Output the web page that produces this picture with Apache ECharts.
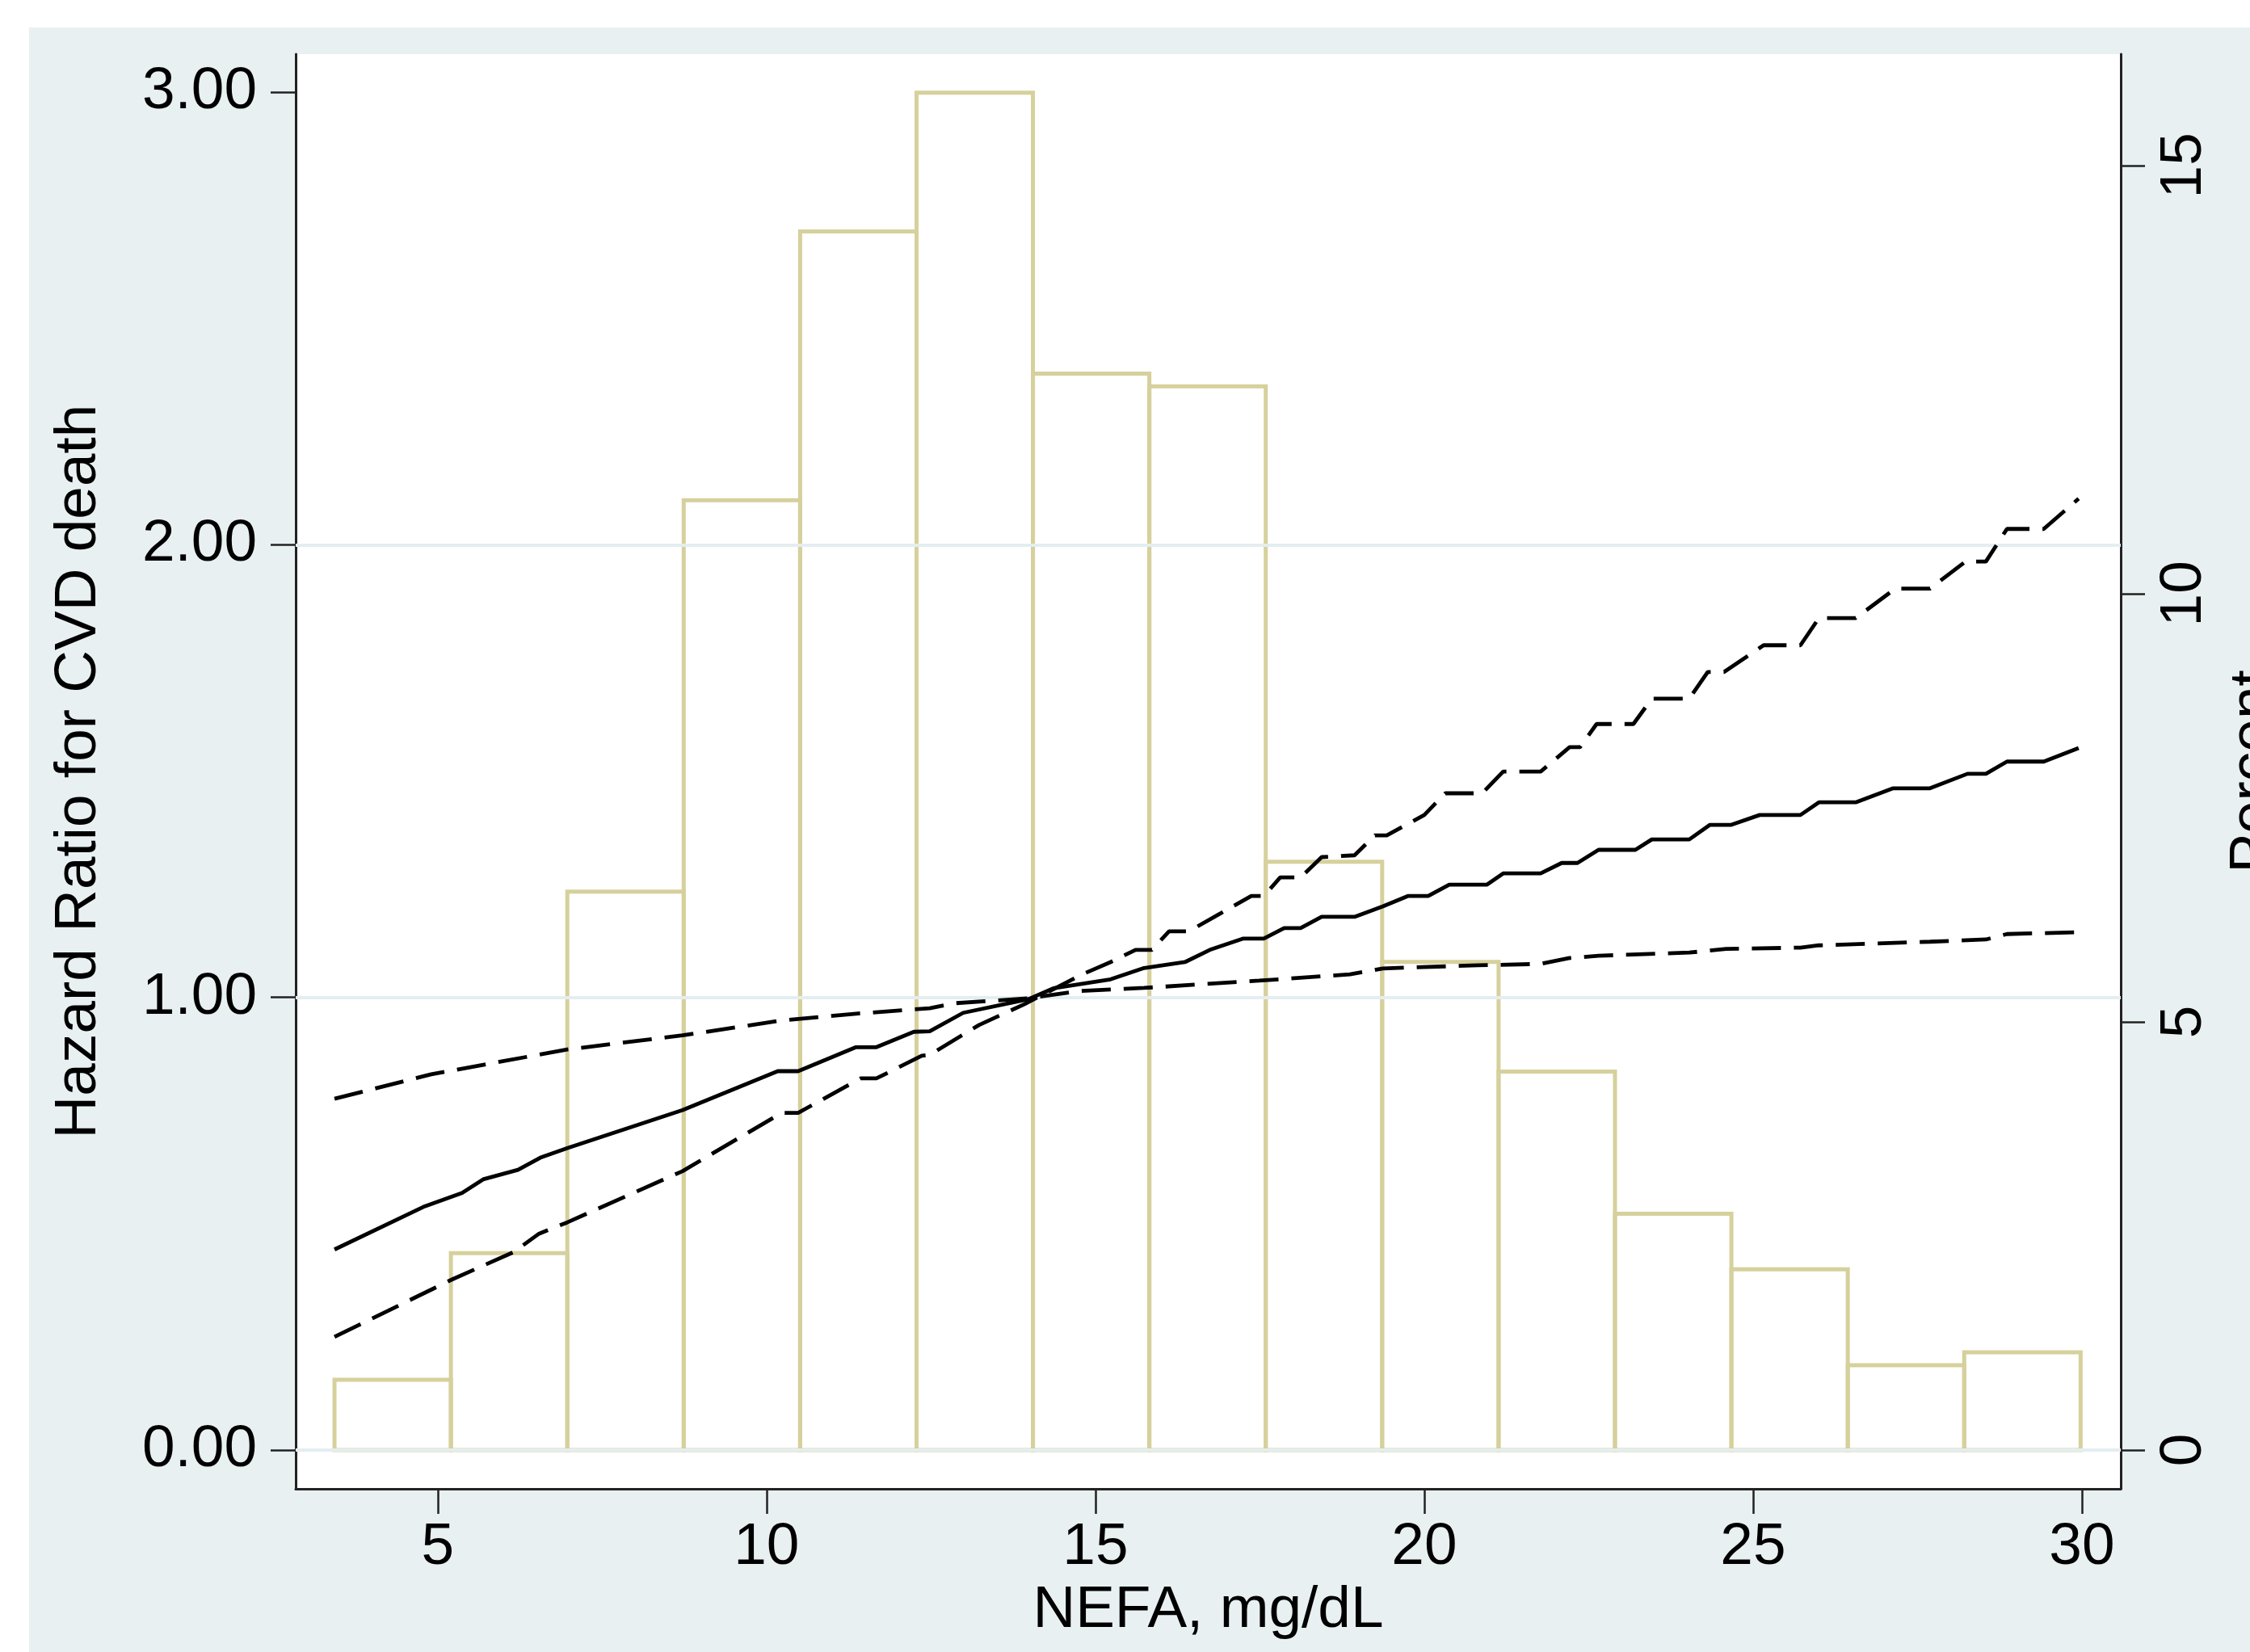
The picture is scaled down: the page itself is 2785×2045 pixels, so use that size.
<!DOCTYPE html>
<html>
<head>
<meta charset="utf-8">
<script src="https://cdn.jsdelivr.net/npm/echarts@6/dist/echarts.min.js"></script>
<style>
html,body{margin:0;padding:0;background:#fff;}
#c{width:2785px;height:2045px;}
</style>
</head>
<body>
<div id="c"></div>
<script>
// ---- Histogram of NEFA (percent) ----
var binStart = 3.43;
var binWidth = 1.77;
var binPercent = [0.82, 2.30, 6.52, 11.09, 14.23, 15.85, 12.57, 12.42, 6.87, 5.70, 4.42, 2.76, 2.11, 0.99, 1.14];

// ---- Hazard ratio curve (solid) ----
var nefaHR = [3.43,4.78,5.37,5.69,6.22,6.56,6.97,8.72,10.17,10.48,11.36,11.67,12.24,12.48,12.99,13.98,14.36,15.23,15.74,16.36,16.74,17.25,17.56,17.87,18.12,18.44,18.94,19.37,19.75,20.06,20.38,20.95,21.2,21.77,22.09,22.33,22.65,23.21,23.46,24.03,24.34,24.66,25.10,25.72,26.0,26.56,27.13,27.69,28.26,28.54,28.86,29.42,29.95];
var hr = [0.443,0.537,0.568,0.598,0.619,0.646,0.667,0.751,0.837,0.837,0.890,0.890,0.924,0.925,0.966,0.996,1.020,1.040,1.065,1.078,1.105,1.130,1.130,1.153,1.153,1.178,1.178,1.201,1.224,1.224,1.249,1.249,1.274,1.274,1.297,1.297,1.326,1.326,1.349,1.349,1.381,1.381,1.403,1.403,1.431,1.431,1.462,1.462,1.494,1.494,1.521,1.521,1.551];

// ---- Confidence band, steep limit (dashed) ----
var nefaCiA = [3.43,5.22,6.15,6.54,6.97,8.72,10.23,10.48,11.43,11.67,12.36,12.48,13.23,13.92,14.80,15.23,15.61,15.86,16.12,16.42,16.87,17.37,17.56,17.81,18.12,18.44,18.94,19.25,19.43,20.0,20.32,20.88,21.2,21.77,22.21,22.37,22.62,23.18,23.46,24.03,24.31,24.56,25.16,25.72,26.0,26.56,27.16,27.69,28.23,28.54,28.86,29.42,29.95];
var ciA = [0.250,0.377,0.437,0.478,0.503,0.616,0.745,0.745,0.821,0.821,0.871,0.873,0.939,0.985,1.051,1.078,1.105,1.105,1.146,1.146,1.183,1.224,1.224,1.265,1.265,1.310,1.314,1.358,1.358,1.403,1.451,1.451,1.499,1.499,1.553,1.553,1.604,1.604,1.660,1.660,1.719,1.719,1.778,1.778,1.838,1.838,1.903,1.903,1.963,1.963,2.035,2.035,2.102];

// ---- Confidence band, flat limit (dashed) ----
var nefaCiB = [3.43,4.90,6.97,8.72,10.23,11.36,12.48,12.85,13.98,14.74,15.74,17.49,18.87,19.37,20.82,21.77,22.21,22.65,24.03,24.59,25.72,26.0,27.69,28.54,28.86,29.95];
var ciB = [0.776,0.830,0.885,0.916,0.949,0.964,0.976,0.987,0.998,1.014,1.021,1.037,1.051,1.064,1.071,1.074,1.087,1.092,1.099,1.107,1.110,1.115,1.123,1.128,1.140,1.144];

// ---- Axis ticks ----
var xTicks = [5, 10, 15, 20, 25, 30];
var hrTicks = [0, 1, 2, 3];
var pctTicks = [0, 5, 10, 15];
var hrGrid = [0, 1, 2];

function zip(a, b) { return a.map(function (v, i) { return [v, b[i]]; }); }
var histData = binPercent.map(function (p, i) {
  return [binStart + i * binWidth, binStart + (i + 1) * binWidth, p];
});

var FONT = "'Liberation Sans', Arial, sans-serif";
var FS = 73;
var AX = '#222';

var chart = echarts.init(document.getElementById('c'), null, {renderer: 'canvas'});
chart.setOption({
  backgroundColor: '#ffffff',
  animation: false,
  graphic: [{
    type: 'rect', z: -100, silent: true,
    shape: {x: 36, y: 34, width: 2749, height: 2011},
    style: {fill: '#e8f0f2'}
  }],
  grid: {left: 366, top: 67, width: 2259, height: 1776, show: true,
         backgroundColor: '#ffffff', borderWidth: 0, containLabel: false,
         outerBoundsMode: 'none'},
  xAxis: {
    type: 'value', min: 2.84, max: 30.59,
    name: 'NEFA, mg/dL', nameLocation: 'middle', nameGap: 112,
    nameTextStyle: {fontFamily: FONT, fontSize: FS, color: '#000'},
    axisLine: {show: true, onZero: false, lineStyle: {color: AX, width: 3}},
    axisTick: {show: true, length: 31, customValues: xTicks, lineStyle: {color: AX, width: 2.5}},
    axisLabel: {customValues: xTicks, margin: 36, fontFamily: FONT, fontSize: FS, color: '#000'},
    splitLine: {show: false}
  },
  yAxis: [{
    type: 'value', min: -0.0857, max: 3.084, position: 'left',
    name: 'Hazard Ratio for CVD death', nameLocation: 'middle', nameGap: 232, nameRotate: 90,
    nameTextStyle: {fontFamily: FONT, fontSize: FS, color: '#000'},
    axisLine: {show: true, onZero: false, lineStyle: {color: AX, width: 3}},
    axisTick: {show: true, length: 31, customValues: hrTicks, lineStyle: {color: AX, width: 2.5}},
    axisLabel: {customValues: hrTicks, margin: 48, fontFamily: FONT, fontSize: FS, color: '#000',
                formatter: function (v) { return v.toFixed(2); }},
    splitLine: {show: false}
  }, {
    type: 'value', min: -0.453, max: 16.30, position: 'right',
    name: 'Percent', nameLocation: 'middle', nameGap: 128, nameRotate: 90,
    nameTextStyle: {fontFamily: FONT, fontSize: FS, color: '#000', verticalAlign: 'top'},
    axisLine: {show: true, onZero: false, lineStyle: {color: AX, width: 3}},
    axisTick: {show: true, length: 30, customValues: pctTicks, lineStyle: {color: AX, width: 2.5}},
    axisLabel: {customValues: pctTicks, margin: 42, rotate: 90, fontFamily: FONT, fontSize: FS, color: '#000'},
    splitLine: {show: false}
  }],
  series: [{
    type: 'line', z: 1, data: [], silent: true,
    markLine: {
      silent: true, symbol: 'none', label: {show: false},
      lineStyle: {color: '#e4eef0', width: 4, type: 'solid'},
      data: hrGrid.map(function (v) { return {yAxis: v}; })
    }
  }, {
    type: 'custom', name: 'Percent', xAxisIndex: 0, yAxisIndex: 1, z: 2,
    data: histData,
    renderItem: function (params, api) {
      var a = api.coord([api.value(0), 0]);
      var b = api.coord([api.value(1), api.value(2)]);
      return {
        type: 'rect',
        shape: {x: a[0], y: b[1], width: b[0] - a[0], height: a[1] - b[1]},
        style: {fill: 'none', stroke: '#d6d09c', lineWidth: 5}
      };
    }
  }, {
    type: 'line', yAxisIndex: 0, z: 5, showSymbol: false, symbol: 'none',
    data: zip(nefaHR, hr),
    lineStyle: {color: '#000', width: 4.8, type: 'solid'}
  }, {
    type: 'line', yAxisIndex: 0, z: 5, showSymbol: false, symbol: 'none',
    data: zip(nefaCiA, ciA),
    lineStyle: {color: '#000', width: 4.8, type: [36, 16]}
  }, {
    type: 'line', yAxisIndex: 0, z: 5, showSymbol: false, symbol: 'none',
    data: zip(nefaCiB, ciB),
    lineStyle: {color: '#000', width: 4.8, type: [36, 16]}
  }]
});
</script>
</body>
</html>
